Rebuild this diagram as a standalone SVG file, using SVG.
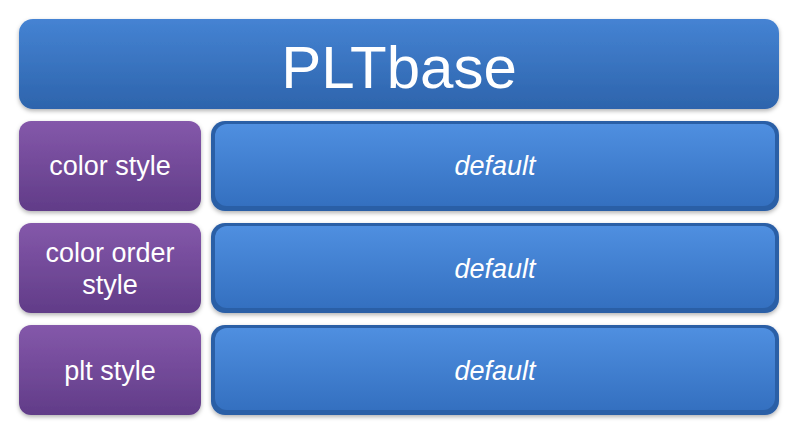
<svg xmlns="http://www.w3.org/2000/svg" width="798" height="434" viewBox="0 0 798 434">
<defs>
<linearGradient id="gb" x1="0" y1="0" x2="0" y2="1"><stop offset="0" stop-color="#4583d3"/><stop offset="1" stop-color="#2d64ac"/></linearGradient>
<linearGradient id="gp" x1="0" y1="0" x2="0" y2="1"><stop offset="0" stop-color="#8458aa"/><stop offset="1" stop-color="#613c88"/></linearGradient>
<linearGradient id="gi" x1="0" y1="0" x2="0" y2="1"><stop offset="0" stop-color="#4f8fe0"/><stop offset="1" stop-color="#3470c0"/></linearGradient>
<filter id="sh" x="-5%" y="-10%" width="110%" height="130%"><feDropShadow dx="0" dy="2" stdDeviation="2" flood-color="#000" flood-opacity="0.3"/></filter>
<style>
text{font-family:"Liberation Sans",Arial,sans-serif;fill:#fff;text-anchor:middle}
.l{font-size:27px}.d{font-size:27px;font-style:italic}
</style>
</defs>
<g id="title"><rect x="19" y="19" width="760" height="90" rx="14" fill="url(#gb)" filter="url(#sh)"/><text x="399" y="88" font-size="60">PLTbase</text></g>
<g id="n1"><rect x="19" y="121" width="182" height="90" rx="12" fill="url(#gp)" filter="url(#sh)"/><text class="l" x="110" y="175">color style</text></g>
<g id="v1"><rect x="211" y="121" width="568" height="90" rx="14" fill="#2a5ea6" filter="url(#sh)"/><rect x="215" y="124" width="560" height="82" rx="12" fill="url(#gi)"/><text class="d" x="495" y="175">default</text></g>
<g id="n2"><rect x="19" y="223" width="182" height="90" rx="12" fill="url(#gp)" filter="url(#sh)"/><text class="l" x="110" y="262">color order</text><text class="l" x="110" y="294">style</text></g>
<g id="v2"><rect x="211" y="223" width="568" height="90" rx="14" fill="#2a5ea6" filter="url(#sh)"/><rect x="215" y="226" width="560" height="82" rx="12" fill="url(#gi)"/><text class="d" x="495" y="278">default</text></g>
<g id="n3"><rect x="19" y="325" width="182" height="90" rx="12" fill="url(#gp)" filter="url(#sh)"/><text class="l" x="110" y="380">plt style</text></g>
<g id="v3"><rect x="211" y="325" width="568" height="90" rx="14" fill="#2a5ea6" filter="url(#sh)"/><rect x="215" y="328" width="560" height="82" rx="12" fill="url(#gi)"/><text class="d" x="495" y="380">default</text></g>
<g id="connectors"/>
</svg>
